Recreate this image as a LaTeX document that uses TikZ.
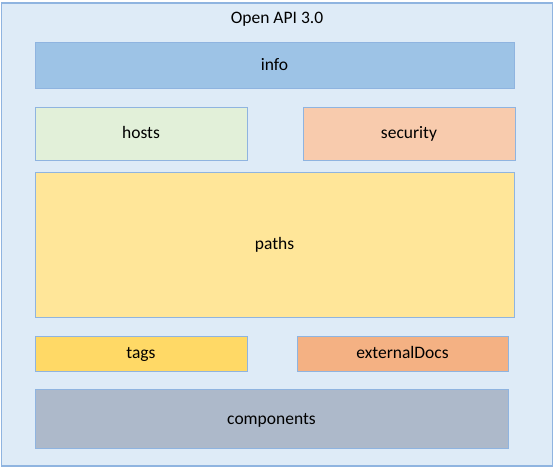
\documentclass[tikz,border=0pt]{standalone}
\usepackage{fontspec}
\setmainfont{Carlito}
\usepackage{xcolor}
\definecolor{frame-blue}{HTML}{8FB4E0}
\definecolor{outer-bg}{HTML}{DEEBF7}
\definecolor{info-blue}{HTML}{9DC3E6}
\definecolor{hosts-green}{HTML}{E2F0D9}
\definecolor{sec-peach}{HTML}{F8CBAD}
\definecolor{paths-yellow}{HTML}{FFE699}
\definecolor{tags-gold}{HTML}{FFD966}
\definecolor{docs-orange}{HTML}{F4B183}
\definecolor{comp-grey}{HTML}{ADB9CA}

\begin{document}
\begin{tikzpicture}[x=1pt, y=-1pt,
        every node/.style={font=\fontsize{17.5}{20}\selectfont,
            text height=13.5pt, text depth=3pt},
        block/.style={draw=frame-blue, line width=0.9pt, inner sep=0pt}]
      \useasboundingbox (0,0) rectangle (555,468);
      % outer frame
      \node[block, line width=1.3pt, fill=outer-bg,
            minimum width=551pt, minimum height=463pt]
            (SPEC) at (277,234.5) {};
      \node (TITLE) at (277,18) {Open API 3.0};
      % sections
      \node[block, fill=info-blue, minimum width=479pt, minimum height=46pt]
            (INFO) at (274.5,65) {info};
      \node[block, fill=hosts-green, minimum width=212pt, minimum height=53pt]
            (HOSTS) at (141,133.5) {hosts};
      \node[block, fill=sec-peach, minimum width=212pt, minimum height=53pt]
            (SEC) at (409,133.5) {security};
      \node[block, fill=paths-yellow, minimum width=479pt, minimum height=145pt]
            (PATHS) at (274.5,244.5) {paths};
      \node[block, fill=tags-gold, minimum width=212pt, minimum height=35pt]
            (TAGS) at (141,353.5) {tags};
      \node[block, fill=docs-orange, minimum width=211pt, minimum height=35pt]
            (DOCS) at (402.5,353.5) {externalDocs};
      \node[block, fill=comp-grey, minimum width=473pt, minimum height=59pt]
            (COMP) at (271.5,419) {components};
    \end{tikzpicture}
\end{document}
